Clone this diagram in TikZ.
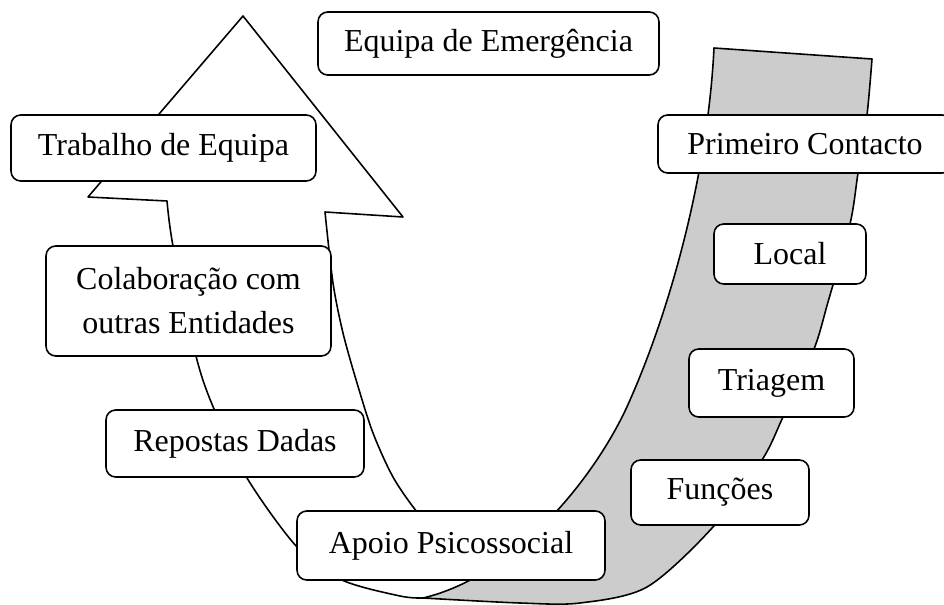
\documentclass[tikz,border=0pt]{standalone}
\usepackage{fontspec}
\setmainfont{Liberation Serif}
\definecolor{bandgray}{RGB}{204,204,204}
\begin{document}
\begin{tikzpicture}[x=0.02cm,y=-0.02cm,
  box/.style={draw, line width=0.9pt, rounded corners=5.5pt, fill=white,
    font=\fontsize{18.2}{25}\selectfont, align=center, inner sep=0pt},
  edge/.style={line width=0.9pt, line join=round}]
\path[use as bounding box] (0,0) rectangle (944,605);
\clip (0,0) rectangle (944,605);

% white up arrow (front)
\fill[white] plot[smooth] coordinates {(423,598) (400,596) (342,580) (297,547) (247,478) (214,409) (196,356) (173,246) (167,201)}
  -- (88,197) -- (243,16) -- (403,217) -- (325,212)
  -- plot[smooth] coordinates {(325,212) (333,283) (343,333) (357,383) (373,433) (393,477) (417,512) (450,550) (480,575)} -- cycle;
\draw[edge] plot[smooth] coordinates {(423,598) (400,596) (342,580) (297,547) (247,478) (214,409) (196,356) (173,246) (167,201)}
  -- (88,197) -- (243,16) -- (403,217) -- (325,212)
  -- plot[smooth] coordinates {(325,212) (333,283) (343,333) (357,383) (373,433) (393,477) (417,512) (450,550) (480,575)};

% gray band (back)
\filldraw[edge, fill=bandgray] (714,48) -- (872,59)
  -- plot[smooth] coordinates {(872,59) (867,115) (858,173) (850,224) (828,302) (814,349) (783,417) (762,460) (713,527) (647,587) (580,603) (520,603) (423,598)}
  .. controls (520,575) and (600,470) .. (630,400)
  .. controls (672,305) and (708,170) .. (714,48)
  -- cycle;

% labels
\node[box, minimum width=6.82cm, minimum height=1.26cm] (eq) at (488.5,43.5) {Equipa de Emergência};
\node[box, minimum width=6.10cm, minimum height=1.32cm] (tr) at (163.5,148) {Trabalho de Equipa};
\node[box, minimum width=5.70cm, minimum height=2.20cm] (co) at (188.5,301) {Colaboração com\\outras Entidades};
\node[box, minimum width=5.16cm, minimum height=1.34cm] (re) at (235,443.5) {Repostas Dadas};
\node[box, minimum width=6.16cm, minimum height=1.38cm] (ap) at (451,545.5) {Apoio Psicossocial};
\node[box, minimum width=5.88cm, minimum height=1.16cm] (pc) at (805,144) {Primeiro Contacto};
\node[box, minimum width=3.04cm, minimum height=1.20cm] (lo) at (790,254) {Local};
\node[box, minimum width=3.30cm, minimum height=1.36cm] (ti) at (771.5,383) {Triagem};
\node[box, minimum width=3.56cm, minimum height=1.30cm] (fu) at (720,492.5) {Funções};
\end{tikzpicture}
\end{document}
